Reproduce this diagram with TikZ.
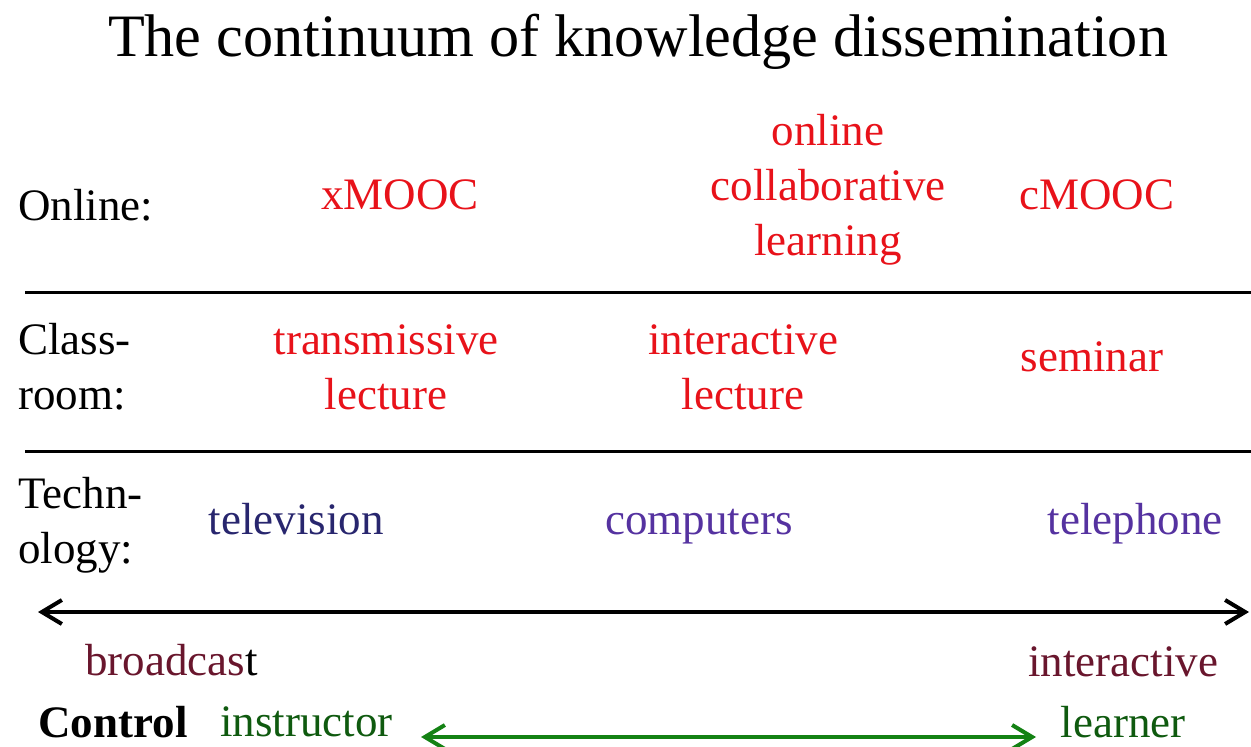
\documentclass[tikz,border=0pt]{standalone}
\usepackage{fontspec}
\setmainfont{Liberation Serif}
\usetikzlibrary{arrows.meta,positioning}
\definecolor{LabelRed}{RGB}{232,18,26}
\definecolor{EndRed}{RGB}{105,22,45}
\definecolor{TvBlue}{RGB}{40,38,110}
\definecolor{PcPurple}{RGB}{85,50,160}
\definecolor{ArrowGreen}{RGB}{20,130,20}
\definecolor{TextGreen}{RGB}{15,90,15}
\tikzset{
  body/.style={inner sep=0pt,font=\fontsize{22.5}{27.5}\selectfont},
  rowlabel/.style={body,anchor=west,align=left},
  item/.style={body,align=center,text=LabelRed},
  tech/.style={body,anchor=base},
  rule/.style={line width=1.5pt},
  span/.style={line width=2pt,{Straight Barb[length=10pt,width=12pt]}-{Straight Barb[length=10pt,width=12pt]}}
}

\begin{document}
\begin{tikzpicture}[x=0.5pt,y=-0.5pt]
  \useasboundingbox (0,0) rectangle (1251,747);
  \node[inner sep=0pt,anchor=base,font=\fontsize{30.1}{36}\selectfont] (title) at (638,57) {The continuum of knowledge dissemination};
  % online row
  \node[rowlabel] (online) at (18,205) {Online:};
  \node[item] (xmooc) at (400,195) {xMOOC};
  \node[item] (collab) at (828,190) {online\\collaborative\\learning};
  \node[item] (cmooc) at (1097,195) {cMOOC};
  \coordinate (r1a) at (25,293);
  \coordinate (r1b) at (1251,293);
  \draw[rule] (r1a) -- (r1b);
  % classroom row
  \node[rowlabel] (classroom) at (18,367) {Class-\\room:};
  \node[item] (translec) at (386,367) {transmissive\\lecture};
  \node[item] (interlec) at (743,367) {interactive\\lecture};
  \node[item] (seminar) at (1092,357) {seminar};
  \coordinate (r2a) at (25,452);
  \coordinate (r2b) at (1251,452);
  \draw[rule] (r2a) -- (r2b);
  % technology row
  \node[rowlabel] (techno) at (18,525) {Techn-\\ology:};
  \node[tech,text=TvBlue] (tv) at (296,535) {television};
  \node[tech,text=PcPurple] (computers) at (699,535) {computers};
  \node[tech,text=PcPurple] (telephone) at (1135,535) {telephone};
  % continuum
  \coordinate (c1a) at (38,612);
  \coordinate (c1b) at (1249,612);
  \draw[span] (c1a) -- (c1b);
  \node[body,anchor=west] (broadcast) at (85,660) {\textcolor{EndRed}{broadcas}t};
  \node[body,text=EndRed] (interactive) at (1123,662) {interactive};
  \node[body,anchor=west,font=\fontsize{22.5}{27.5}\selectfont\bfseries] (control) at (38,722) {Control};
  \node[body,anchor=west,text=TextGreen] (instructor) at (220,722) {instructor};
  \node[body,text=TextGreen] (learner) at (1123,722) {learner};
  \coordinate (c2a) at (421,737);
  \coordinate (c2b) at (1036,737);
  \draw[span,ArrowGreen] (c2a) -- (c2b);
\end{tikzpicture}
\end{document}
